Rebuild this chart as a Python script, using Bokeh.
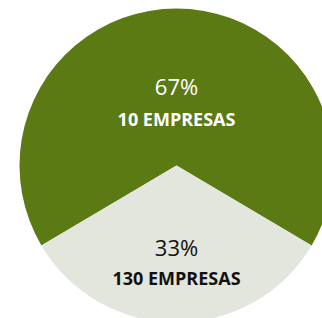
import math
from bokeh.plotting import figure
from bokeh.models import Range1d, ColumnDataSource
from bokeh.core.properties import value
from bokeh.embed import file_html
from bokeh.resources import INLINE

# Data
shares = [67, 33]
companies = ["10 EMPRESAS", "130 EMPRESAS"]
pct_labels = ["67%", "33%"]
colors = ["#5b7a14", "#e3e6dc"]
text_colors = ["#ffffff", "#111111"]

W, H = 322, 318
cx, cy, R = 176, 153, 157

# angles: grey slice centered at bottom (-90 deg)
total = sum(shares)
grey_span = shares[1] / total * 2 * math.pi
g_start = -math.pi / 2 - grey_span / 2
g_end = -math.pi / 2 + grey_span / 2
starts = [g_end, g_start]
ends = [g_start + 2 * math.pi, g_end]

src = ColumnDataSource(dict(x=[cx, cx], y=[cy, cy], start=starts, end=ends, color=colors))

p = figure(width=W, height=H, output_backend="svg", toolbar_location=None,
           x_range=Range1d(0, W), y_range=Range1d(0, H), min_border=0)
p.axis.visible = False
p.grid.visible = False
p.outline_line_color = None
p.background_fill_color = "white"
p.border_fill_color = "white"

p.wedge(x="x", y="y", radius=R, start_angle="start", end_angle="end",
        fill_color="color", line_color=None, source=src)

# labels: offsets from center along slice mid-direction
pct_y = [cy + 80, cy - 81]
comp_y = [cy + 47, cy - 112]
p.text(x=[cx, cx], y=pct_y, text=pct_labels, text_color=text_colors,
       text_font=value("Open Sans"), text_font_size="22px",
       text_align="center", text_baseline="middle")
p.text(x=[cx, cx], y=comp_y, text=companies, text_color=text_colors,
       text_font=value("Open Sans"), text_font_size="18px", text_font_style="bold",
       text_align="center", text_baseline="middle")

open("out.html", "w").write(file_html(p, INLINE))
